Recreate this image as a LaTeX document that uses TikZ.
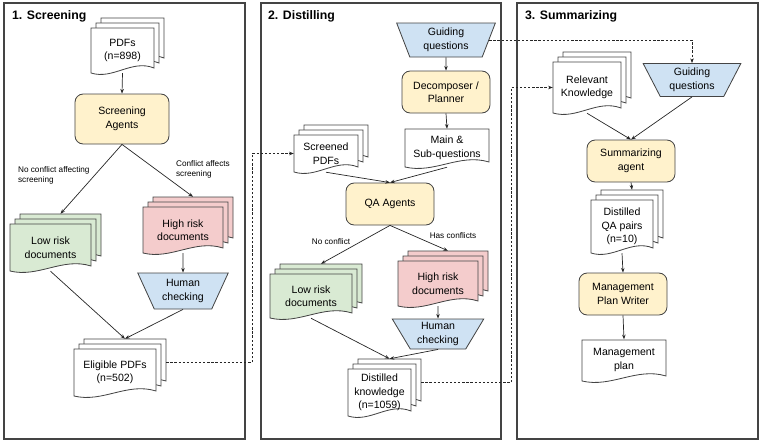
\documentclass[tikz,border=0pt]{standalone}
\usepackage{fontspec}
\setmainfont{Liberation Sans}
\usetikzlibrary{shapes.geometric,arrows.meta}

\definecolor{agentfill}{HTML}{FFF2CC}
\definecolor{queryfill}{HTML}{CFE2F3}
\definecolor{lowfill}{HTML}{D9EAD3}
\definecolor{highfill}{HTML}{F4CCCC}
\definecolor{edgegray}{HTML}{444444}

\newcommand{\nodefont}{\fontsize{9}{11.5}\selectfont}

\tikzset{
  panel/.style={draw=edgegray, line width=0.9pt},
  title/.style={anchor=west, font=\bfseries\fontsize{10.5}{12}\selectfont},
  agent/.style={draw=edgegray, fill=agentfill, rounded corners=7pt, line width=0.7pt,
    minimum width=2.64cm, minimum height=1.26cm, align=center, font=\nodefont},
  query/.style={trapezium, shape border rotate=180, trapezium stretches=true,
    trapezium left angle=63, trapezium right angle=63, draw=edgegray, fill=queryfill,
    line width=0.7pt, inner sep=0.5pt, align=center, font=\nodefont},
  docline/.style={draw=edgegray, line width=0.7pt},
  doctext/.style={inner sep=0pt, align=center, font=\nodefont},
  stackbox/.style={inner sep=0pt},
  flow/.style={-{Stealth[length=4pt,width=3pt]}, line width=0.6pt, draw=black!85},
  link/.style={flow, dash pattern=on 2pt off 1.5pt},
  lbl/.style={font=\fontsize{7}{8.5}\selectfont, align=left},
}

% one page with a wavy bottom: left, top, width, height, fill
\newcommand{\docpage}[5]{%
  \draw[docline, fill=#5] (#1,#2) -- (#1+#3,#2) -- (#1+#3,#2+#4-5)
    .. controls (#1+0.65*#3,#2+#4-14) and (#1+0.35*#3,#2+#4+7) .. (#1,#2+#4) -- cycle;}

% three stacked pages: name, left, top, width, height, fill, text
\newcommand{\docstack}[7]{%
  \docpage{#2+10}{#3-10}{#4}{#5}{#6}
  \node[stackbox, minimum width=#4*0.03cm, minimum height=#5*0.03cm] (#1-back) at (#2+10+0.5*#4,#3-10+0.5*#5) {};
  \docpage{#2+5}{#3-5}{#4}{#5}{#6}
  \docpage{#2}{#3}{#4}{#5}{#6}
  \node[doctext, minimum width=#4*0.03cm, minimum height=#5*0.03cm] (#1) at (#2+0.5*#4,#3+0.5*#5) {#7};}

\begin{document}
\begin{tikzpicture}[x=0.03cm, y=-0.03cm]
    \useasboundingbox (0,0) rectangle (762,442);

    % panels
    \draw[panel] (4,3) rectangle (245,439);
    \draw[panel] (261,3) rectangle (501,439);
    \draw[panel] (517,3) rectangle (758,439);
    \node[title] (t1) at (8,16) {1. Screening};
    \node[title] (t2) at (264,16) {2. Distilling};
    \node[title] (t3) at (521,16) {3. Summarizing};

    % 1. Screening
    \docstack{pdfs}{91}{28}{63}{45}{white}{PDFs\\(n=898)}
    \node[agent, minimum width=2.82cm, minimum height=1.5cm] (screen) at (122,119) {Screening\\Agents};
    \docstack{low1}{10}{224}{81}{47}{lowfill}{Low risk\\documents}
    \docstack{high1}{143}{207}{80}{46}{highfill}{High risk\\documents}
    \node[query, minimum width=2.73cm, minimum height=1.08cm] (human1) at (183,291) {Human\\checking};
    \docstack{eligible}{74}{349}{82}{47}{white}{Eligible PDFs\\(n=502)}

    \node[lbl, anchor=west] (nc1) at (14,175) {No conflict affecting\\screening};
    \node[lbl, anchor=west] (hc1) at (172,169) {Conflict affects\\screening};

    \draw[flow] (pdfs.south) -- (screen.north);
    \draw[flow] (screen.south) -- (low1-back.north);
    \draw[flow] (screen.south) -- (high1-back.north);
    \draw[flow] (high1.south) -- (human1.north);
    \draw[flow] (low1.south) -- (eligible-back.north);
    \draw[flow] (human1.south) -- (eligible-back.north);

    % 2. Distilling
    \node[query, trapezium left angle=71, trapezium right angle=71, minimum width=2.97cm, minimum height=1.02cm] (guide2) at (446,40) {Guiding\\questions};
    \node[agent] (decomp) at (446,92) {Decomposer /\\Planner};
    \docpage{405}{129}{84}{38}{white}
    \node[doctext, minimum width=2.52cm, minimum height=1.14cm] (mainq) at (447,148) {Main \&\\Sub-questions};
    \docstack{screened}{294}{135}{64}{37}{white}{Screened\\PDFs}
    \node[agent] (qa) at (390,204) {QA Agents};
    \docstack{low2}{270}{274}{82}{44}{lowfill}{Low risk\\documents}
    \docstack{high2}{398}{261}{80}{45}{highfill}{High risk\\documents}
    \node[query, trapezium left angle=60, trapezium right angle=60, minimum width=2.76cm, minimum height=0.9cm] (human2) at (438,334) {Human\\checking};
    \docstack{distilled}{348}{369}{63}{47}{white}{Distilled\\knowledge\\(n=1059)}

    \node[lbl] (nc2) at (331,242) {No conflict};
    \node[lbl] (hc2) at (453,236) {Has conflicts};

    \draw[flow] (guide2.south) -- (decomp.north);
    \draw[flow] (decomp.south) -- (mainq.north);
    \draw[flow] (screened.south) -- (qa.north);
    \draw[flow] (mainq.south) -- (qa.north);
    \draw[flow] (qa.south) -- (low2-back.north);
    \draw[flow] (qa.south) -- (high2-back.north);
    \draw[flow] (high2.south) -- (human2.north);
    \draw[flow] (low2.south) -- (distilled-back.north);
    \draw[flow] (human2.south) -- (distilled-back.north);

    % 3. Summarizing
    \docstack{relevant}{553}{62}{68}{51}{white}{Relevant\\Knowledge}
    \node[query, minimum width=2.94cm, minimum height=0.99cm] (guide3) at (692,80) {Guiding\\questions};
    \node[agent] (summ) at (631,161) {Summarizing\\agent};
    \docstack{qapairs}{591}{200}{62}{53}{white}{Distilled\\QA pairs\\(n=10)}
    \node[agent] (writer) at (623,294) {Management\\Plan Writer};
    \docpage{582}{340}{84}{41}{white}
    \node[doctext, minimum width=2.52cm, minimum height=1.23cm] (plan) at (624,360) {Management\\plan};

    \draw[flow] (relevant.south) -- (summ.north);
    \draw[flow] (guide3.south) -- (summ.north);
    \draw[flow] (summ.south) -- (qapairs-back.north);
    \draw[flow] (qapairs.south) -- (writer.north);
    \draw[flow] (writer.south) -- (plan.north);

    % links between stages
    \draw[link] (eligible-back.east) -- ++(86,0) |- (screened.west);
    \draw[link] (guide2.east) -| (guide3.north);
    \draw[link] (distilled-back.east) -- ++(90,0) |- (relevant.west);
\end{tikzpicture}
\end{document}
